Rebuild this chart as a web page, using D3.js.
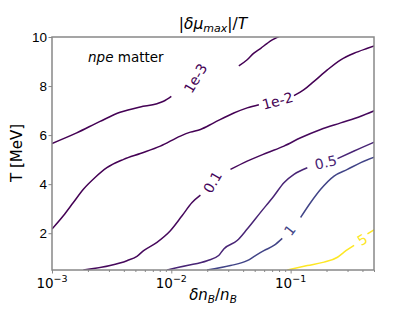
<!DOCTYPE html>
<html>
<head>
<meta charset="utf-8">
<script src="https://cdn.jsdelivr.net/npm/d3@7"></script>
<style>
  body { margin: 0; background: #fff; }
  svg { font-family: "DejaVu Sans", sans-serif; }
</style>
</head>
<body>
<div id="chart"></div>
<script>
// contour levels and their labels
var levels = [1e-3, 1e-2, 0.1, 0.5, 1, 5];
var levelLabels = ["1e-3", "1e-2", "0.1", "0.5", "1", "5"];

// contour lines: [dn/n, T], split where the label sits
var c1e3 = [
  [[1e-3,5.66],[10**-2.793,6.09],[10**-2.597,6.56],[10**-2.429,6.93],[10**-2.26,7.15],[10**-2.12,7.28],[10**-2.065,7.38],[10**-2.0,7.58]],
  [[10**-1.434,8.82],[10**-1.364,9.07],[10**-1.308,9.34],[10**-1.25,9.54],[10**-1.196,9.74],[10**-1.154,9.88],[10**-1.084,10.05]]
];
var c1e2 = [
  [[1e-3,2.17],[10**-2.905,2.71],[10**-2.821,3.25],[10**-2.737,3.79],[10**-2.639,4.27],[10**-2.54,4.67],[10**-2.40,5.01],[10**-2.26,5.25],
   [10**-2.092,5.55],[10**-1.924,5.96],[10**-1.84,6.12],[10**-1.756,6.23],[10**-1.644,6.50],[10**-1.476,6.90],[10**-1.364,7.11],[10**-1.266,7.24]],
  [[10**-0.972,7.61],[10**-0.888,7.85],[10**-0.804,8.19],[10**-0.692,8.66],[10**-0.58,9.07],[10**-0.468,9.34],[10**-0.356,9.54],[10**-0.29,9.65]]
];
var c01 = [
  [[10**-2.737,0.5],[10**-2.513,0.68],[10**-2.372,0.88],[10**-2.288,1.06],[10**-2.232,1.29],[10**-2.12,1.63],[10**-2.008,2.10],[10**-1.91,2.71],
   [10**-1.826,3.25],[10**-1.756,3.55]],
  [[10**-1.504,4.60],[10**-1.364,4.94],[10**-1.196,5.28],[10**-1.056,5.55],[10**-0.916,5.89],[10**-0.748,6.23],[10**-0.58,6.50],[10**-0.412,6.77],[10**-0.29,7.01]]
];
var c05 = [
  [[10**-2.036,0.5],[10**-1.868,0.68],[10**-1.70,0.88],[10**-1.603,1.09],[10**-1.56,1.36],[10**-1.448,1.70],[10**-1.364,2.17],[10**-1.252,2.85],
   [10**-1.14,3.52],[10**-1.056,4.06],[10**-0.972,4.40],[10**-0.86,4.67]],
  [[10**-0.607,5.04],[10**-0.468,5.35],[10**-0.29,5.73]]
];
var c1 = [
  [[10**-1.70,0.5],[10**-1.504,0.68],[10**-1.364,0.88],[10**-1.294,1.09],[10**-1.224,1.29],[10**-1.14,1.50],[10**-1.07,1.79]],
  [[10**-0.916,2.64],[10**-0.832,3.25],[10**-0.748,3.79],[10**-0.636,4.33],[10**-0.524,4.60],[10**-0.412,4.88],[10**-0.29,5.12]]
];
var c5 = [
  [[10**-1.028,0.5],[10**-0.86,0.68],[10**-0.72,0.82],[10**-0.607,1.02],[10**-0.552,1.23],[10**-0.468,1.50]],
  [[10**-0.356,1.97],[10**-0.29,2.17]]
];
var contours = [c1e3, c1e2, c01, c05, c1, c5];

// label centres [dn/n, T] and rotation
var labelPos = [[10**-1.798,8.32],[10**-1.109,7.40],[10**-1.655,4.08],[10**-0.706,4.89],[10**-1.008,2.13],[10**-0.398,1.74]];
var labelAngle = [-59, -15, -60, -13, -52, -32];

var xTicks = [1e-3, 1e-2, 1e-1];
var xTickExp = ["\u22123", "\u22122", "\u22121"];
var yTicks = [2, 4, 6, 8, 10];

var margin = {top: 37, right: 42, bottom: 40, left: 52},
    width = 416 - margin.left - margin.right,
    height = 310 - margin.top - margin.bottom;

var svg = d3.select("#chart").append("svg")
    .attr("width", 416)
    .attr("height", 310);

var g = svg.append("g")
    .attr("transform", "translate(" + margin.left + "," + margin.top + ")");

var x = d3.scaleLog().domain([1e-3, 0.5]).range([0, width]);
var y = d3.scaleLinear().domain([0.5, 10]).range([height, 0]);

var color = d3.scaleSequential(d3.interpolateViridis).domain([1e-3, 5]);

g.append("defs").append("clipPath")
    .attr("id", "clip")
  .append("rect")
    .attr("width", width)
    .attr("height", height);

var line = d3.line()
    .x(function(d) { return x(d[0]); })
    .y(function(d) { return y(d[1]); })
    .curve(d3.curveMonotoneX);

var plot = g.append("g").attr("clip-path", "url(#clip)");

// one group per level, one path per segment
var lev = plot.selectAll("g.level")
  .data(contours)
  .enter()
  .append("g")
    .attr("class", "level")
    .attr("stroke", function(d, i) { return color(levels[i]); });

lev.selectAll("path")
  .data(function(d) { return d; })
  .enter()
  .append("path")
    .attr("d", line)
    .attr("fill", "none")
    .attr("stroke-width", 1.5);

plot.selectAll("text.clabel")
  .data(labelPos)
  .enter()
  .append("text")
    .attr("class", "clabel")
    .attr("transform", function(d, i) {
      return "translate(" + x(d[0]) + "," + y(d[1]) + ") rotate(" + labelAngle[i] + ")";
    })
    .attr("text-anchor", "middle")
    .attr("dy", "0.36em")
    .style("font-size", "14px")
    .attr("fill", function(d, i) { return color(levels[i]); })
    .text(function(d, i) { return levelLabels[i]; });

// axes
var axisColor = "#888";
g.append("g")
    .attr("transform", "translate(0," + height + ")")
    .call(d3.axisBottom(x).tickValues(xTicks).tickSize(3.5).tickFormat(""));
var minor = [];
xTicks.forEach(function(dec) {
  for (var k = 2; k <= 9; k++) { if (dec * k <= 0.5) minor.push(dec * k); }
});
g.append("g")
    .attr("transform", "translate(0," + height + ")")
    .call(d3.axisBottom(x).tickValues(minor).tickSize(2).tickFormat(""));

var yAxis = g.append("g")
    .call(d3.axisLeft(y).tickValues(yTicks).tickSize(3.5).tickFormat(d3.format("d")));
yAxis.selectAll("text").style("font-size", "13.5px").attr("fill", "#000").attr("x", -5);

g.selectAll(".tick line").attr("stroke", axisColor);
g.selectAll(".domain").remove();

// frame
g.append("rect")
    .attr("width", width)
    .attr("height", height)
    .attr("fill", "none")
    .attr("stroke", axisColor)
    .attr("stroke-width", 1.5);

// x tick labels with exponents
var xl = g.selectAll("text.xt")
  .data(xTicks)
  .enter()
  .append("text")
    .attr("class", "xt")
    .attr("x", function(d) { return x(d); })
    .attr("y", height + 17.5)
    .attr("text-anchor", "middle")
    .style("font-size", "13.5px");
xl.append("tspan").text("10");
xl.append("tspan")
    .attr("dy", -6)
    .style("font-size", "9.5px")
    .text(function(d, i) { return xTickExp[i]; });

// titles
var title = svg.append("text")
    .attr("x", margin.left + width / 2)
    .attr("y", 29)
    .attr("text-anchor", "middle")
    .style("font-size", "15.5px");
title.append("tspan").text("|");
title.append("tspan").style("font-style", "italic").text("\u03b4\u03bc");
title.append("tspan").style("font-style", "italic").style("font-size", "11px").attr("dy", 3).text("max");
title.append("tspan").attr("dy", -3).text("|/");
title.append("tspan").style("font-style", "italic").text("T");

var xlab = svg.append("text")
    .attr("x", margin.left + width / 2)
    .attr("y", 300)
    .attr("text-anchor", "middle")
    .style("font-size", "15px");
xlab.append("tspan").style("font-style", "italic").text("\u03b4n");
xlab.append("tspan").style("font-style", "italic").style("font-size", "10.5px").attr("dy", 3).text("B");
xlab.append("tspan").attr("dy", -3).text("/");
xlab.append("tspan").style("font-style", "italic").text("n");
xlab.append("tspan").style("font-style", "italic").style("font-size", "10.5px").attr("dy", 3).text("B");

svg.append("text")
    .attr("transform", "translate(22," + 153 + ") rotate(-90)")
    .attr("text-anchor", "middle")
    .style("font-size", "15px")
    .text("T [MeV]");

var note = svg.append("text")
    .attr("x", 88)
    .attr("y", 62)
    .style("font-size", "13.5px");
note.append("tspan").style("font-style", "italic").text("npe");
note.append("tspan").text(" matter");
</script>
</body>
</html>
